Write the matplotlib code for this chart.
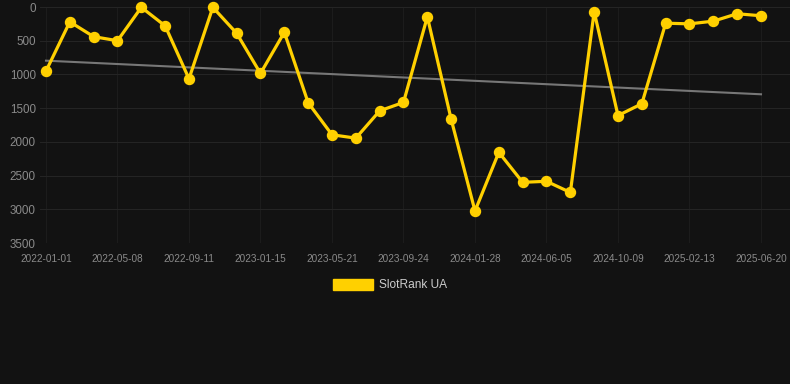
import matplotlib
matplotlib.use("Agg")
import matplotlib.pyplot as plt
import numpy as np

plt.rcParams["font.family"] = ["Liberation Sans", "DejaVu Sans"]

# Дані: позиції в рейтингу (менше - краще)
tick_labels = ["2022-01-01", "2022-05-08", "2022-09-11", "2023-01-15", "2023-05-21", "2023-09-24",
               "2024-01-28", "2024-06-05", "2024-10-09", "2025-02-13", "2025-06-20"]
rank = [950, 220, 440, 500, 5, 280, 1065, 5, 390, 985, 375,
        1420, 1895, 1945, 1540, 1415, 145, 1665, 3025, 2155, 2600,
        2585, 2750, 70, 1610, 1435, 240, 250, 210, 100, 130]

bg = "#121212"
gold = "#FFD000"

x = np.arange(len(rank))
k, b = np.polyfit(x, rank, 1)

# крок між точками в пікселях
step = (761 - 46) / (len(rank) - 1)

fig = plt.figure(figsize=(7.9, 3.84), dpi=100, facecolor=bg)
ax = fig.add_axes([40 / 790, 1 - 243 / 384, 750 / 790, 236 / 384], facecolor=bg)

ax.plot(x, k * x + b, color="#777777", linewidth=1.5, zorder=2)
ax.plot(x, rank, color=gold, linewidth=2.3, marker="o", markersize=7.2, zorder=3, clip_on=False)

ax.set_xlim(-6 / step, len(rank) - 1 + 29 / step)
ax.set_ylim(3500, 0)
ax.set_yticks(np.arange(0, 3501, 500))
ax.set_xticks(x[::3])
ax.set_xticklabels(tick_labels)

ax.grid(True, axis="y", color="#242424", linewidth=0.8)
ax.grid(True, axis="x", color="#1c1c1c", linewidth=0.8)
ax.set_axisbelow(True)
for s in ax.spines.values():
    s.set_visible(False)
ax.tick_params(axis="y", colors="#8a8a8a", labelsize=8.4, length=0, pad=3)
ax.tick_params(axis="x", colors="#8a8a8a", labelsize=7.2, length=0, pad=8)

# Легенда
fig.patches.append(plt.Rectangle((333 / 790, 1 - 290 / 384), 40 / 790, 11 / 384,
                                 transform=fig.transFigure, color=gold, figure=fig))
fig.text(379 / 790, 1 - 285 / 384, "SlotRank UA", color="#cccccc", fontsize=8.6, va="center")

fig.savefig("out.png", dpi=100, facecolor=bg)
